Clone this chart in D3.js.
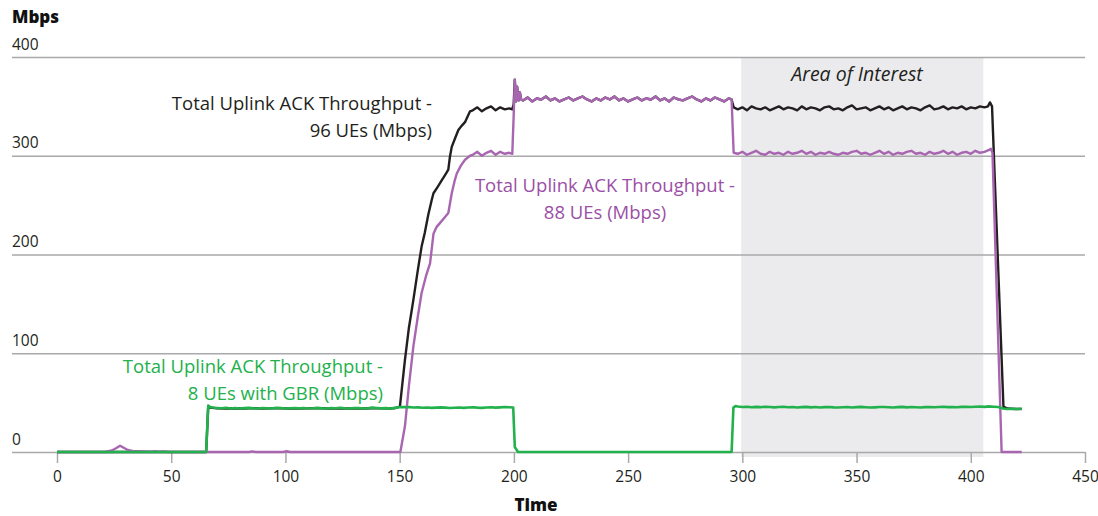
<!DOCTYPE html>
<html><head><meta charset="utf-8">
<script src="https://cdn.jsdelivr.net/npm/d3@7"></script>
<style>
body{margin:0;background:#fff}
svg{display:block}
text{font-family:"Open Sans","Noto Sans",sans-serif}
</style>
</head><body>
<svg id="chart" width="1098" height="516"></svg>
<script>
// ---------- data ----------
const yTicks = [0, 100, 200, 300, 400];
const xTicks = [0, 50, 100, 150, 200, 250, 300, 350, 400, 450];
const areaOfInterest = [299.5, 405.5];

// shared samples: black (total) and purple coincide while GBR traffic is off
const spikeTime = [200.4, 200.9, 201.4, 202, 202.6, 203.2];
const spikeMbps = [377, 355, 370, 356, 364, 357];
const peakMbps = [356,359,355,358,357,360,356,358,355,357,
  359,356,358,360,357,355,358,356,359,357,
  360,356,358,355,357,359,356,358,357,360,
  356,358,355,359,357,356,358,360,357,355,
  358,356,359,357,355,358];

// green: 8 UEs with GBR
const greenA = [45.0,44.6,44.3,44.8,44.1,44.5,44.0,44.4,44.7,44.2,
  44.0,44.6,44.3,44.1,44.8,44.4,44.0,44.3,44.6,44.2,
  44.5,44.1,44.3,44.7,44.2,44.0,44.5,44.3,44.8,44.2,
  44.1,44.6,44.4,44.0,44.3,44.9,44.5,44.2,44.4,44.1,
  44.7,45.6,45.4,45.6,45.0,45.2,44.8,45.1,44.7,44.9,
  45.2,44.9,44.6,44.8,45.1,44.7,45.0,45.3,44.9,44.7,
  45.1,45.3,44.9,45.2,45.5,45.3];
const greenB = [46.0,45.6,45.8,45.3,45.7,45.4,45.9,45.5,45.2,45.6,
  45.8,45.3,45.5,45.0,45.4,45.7,45.2,45.5,45.1,45.4,
  45.6,45.2,45.0,45.3,45.5,45.1,45.4,45.7,45.3,45.0,
  45.2,45.5,45.6,45.3,45.1,45.4,45.7,45.2,45.5,45.3,
  45.0,45.4,45.6,45.3,45.5,45.8,45.4,45.6,45.3,45.7,
  45.9,45.5,45.8,46.0,45.7,46.2,45.9,45.5];
const greenTime = [0, 65.3, 66.2, 67].concat(d3.range(68, 199, 2),
  [199.7, 200.4, 201.8, 295.3, 296.1, 297], d3.range(298, 413, 2), [414, 416, 418, 420, 422.3]);
const greenMbps = [0, 0, 47, 45.5].concat(greenA,
  [45, 5, 0, 0, 45, 46.5], greenB, [44, 43.5, 43.8, 43.6, 43.7]);

// purple: 88 UEs
const purpleRamp = [301, 304, 300, 303, 305, 301, 304, 302, 303];
const purpleLow = [302,304,301,303,305,302,301,304,302,303,
  301,304,302,303,305,302,304,301,303,302,
  304,302,301,303,302,304,305,302,303,301,
  303,305,302,304,301,303,302,304,305,302,
  303,301,304,302,303,305,302,304,301,303,
  304,302,305,303,304,306];
const purpleTime = [0,21,24,26,27.6,29,31,33,35,38,41,43,44,47,49,84,85.5,87,99,100.5,102,
  150.3,152.3,154,156,158,159.6,161.5,163.3,164.8,166.2,167.7,169.5,171.3,172.8,174,175,176.8,178.6,180.8]
  .concat(d3.range(182, 199, 2), [199.3, 199.9], spikeTime, d3.range(204, 295, 2),
  [295.3, 296.2], d3.range(298, 409, 2), [408.8, 409.5, 413.5, 422.3]);
const purpleMbps = [0,0,1.5,4,6.3,4.5,2,1,0.8,0.5,0.3,0.9,0.3,0.5,0,0,0.6,0,0,0.8,0,
  0,26,66,107,138,161,178,191,221,228,232,237,242,262,274,282,290,296,300]
  .concat(purpleRamp, [302, 340], spikeMbps, peakMbps, [357, 303], purpleLow, [307, 303, 0, 0]);

// black: 96 UEs total
const blackLow = [44.2,44.0,44.3,44.1,44.4,44.0,44.2,44.3,44.1,44.0,
  44.2,44.4,44.1,44.3,44.0,44.2,44.1,44.3,44.2,44.0];
const blackRise = [44.5,46,93,125,154,185,208,222,240,255,262,268,275,281,286,299,309,318,326,330,334,345];
const blackRamp = [346, 349, 345, 348, 350, 346, 349, 347, 348];
const blackHigh = [347,349,346,350,348,347,349,346,348,350,
  347,349,348,346,350,347,349,348,346,349,
  350,347,348,346,349,351,347,348,349,346,
  348,350,347,349,346,348,350,347,349,348,
  346,349,351,347,348,350,347,349,348,350,
  347,349,348,350,349];
const blackTime = [0, 65.3, 66.2, 67].concat(d3.range(70, 147, 4),
  [148,150.1,152.3,154,156,158,159.6,161,162.5,164,164.8,166.5,168.4,170,171.3,172,172.8,174.3,175.7,177,178.6,180.8],
  d3.range(182, 199, 2), [199.3, 199.9], spikeTime, d3.range(204, 295, 2), [295.3, 296.2],
  d3.range(298, 407, 2), [407.5, 408.4, 409.3, 414.3, 416, 418, 420, 422.3]);
const blackMbps = [0, 0, 46.5, 45].concat(blackLow, blackRise, blackRamp, [347, 352],
  spikeMbps, peakMbps, [357, 349], blackHigh, [350, 354, 350, 46, 44, 43.8, 43.6, 43.7]);

// ---------- chart ----------
const svg = d3.select("#chart");
const x = d3.scaleLinear().domain([0, 450]).range([57, 1085]);
const y = d3.scaleLinear().domain([0, 400]).range([452, 57]);
const gridColor = "#a9a9a9";

// area of interest band
svg.append("rect")
  .attr("x", x(areaOfInterest[0])).attr("y", y(400))
  .attr("width", x(areaOfInterest[1]) - x(areaOfInterest[0]))
  .attr("height", y(0) - y(400) + 5)
  .attr("fill", "#ebebed");
svg.append("text")
  .attr("x", 857).attr("y", 81)
  .attr("text-anchor", "middle").attr("font-style", "italic")
  .attr("font-size", 19.5).attr("fill", "#231f20")
  .text("Area of Interest");

// gridlines + y tick labels
const yAxis = d3.axisLeft(y).tickValues(yTicks).tickSize(-(1085 - 12)).tickFormat(d3.format("d"));
const gy = svg.append("g").attr("transform", "translate(12,0)").call(yAxis);
gy.select(".domain").remove();
gy.selectAll(".tick line").attr("stroke", gridColor).attr("stroke-width", 1.5);
gy.selectAll(".tick text")
  .attr("x", 0).attr("dy", -8).attr("text-anchor", "start")
  .attr("font-size", 15.5).attr("fill", "#231f20")
  .attr("font-family", "'Open Sans','Noto Sans',sans-serif");

// x axis
const xAxis = d3.axisBottom(x).tickValues(xTicks).tickSize(11).tickPadding(8).tickFormat(d3.format("d"));
const gx = svg.append("g").attr("transform", `translate(0,${y(0)})`).call(xAxis);
gx.select(".domain").remove();
gx.selectAll(".tick line").attr("stroke", gridColor).attr("stroke-width", 1.5);
gx.selectAll(".tick text").attr("font-size", 15.5).attr("fill", "#231f20")
  .attr("font-family", "'Open Sans','Noto Sans',sans-serif");

// lines
const line = d3.line().x(d => x(d[0])).y(d => y(d[1]));
const zip = (ts, vs) => ts.map((t, i) => [t, vs[i]]).filter(d => d[1] !== undefined);
const series = [
  {t: blackTime, v: blackMbps, color: "#231f20", w: 2.4},
  {t: purpleTime, v: purpleMbps, color: "#a866b1", w: 2.4},
  {t: greenTime, v: greenMbps, color: "#22b14c", w: 2.6}
];
series.forEach(s => {
  svg.append("path").datum(zip(s.t, s.v))
    .attr("fill", "none").attr("stroke", s.color).attr("stroke-width", s.w)
    .attr("stroke-linejoin", "round").attr("d", line);
});

// series labels
function label(lines, xPos, yPos, anchor, color) {
  const t = svg.append("text").attr("font-size", 18.5).attr("fill", color).attr("text-anchor", anchor);
  lines.forEach((l, i) => t.append("tspan").attr("x", xPos).attr("y", yPos + i * 27).text(l));
}
label(["Total Uplink ACK Throughput -", "96 UEs (Mbps)"], 432, 110, "end", "#231f20");
label(["Total Uplink ACK Throughput -", "88 UEs (Mbps)"], 605, 192, "middle", "#9b4fa6");
label(["Total Uplink ACK Throughput -", "8 UEs with GBR (Mbps)"], 383, 373, "end", "#22b14c");

// axis titles
svg.append("text").attr("x", 12).attr("y", 23).attr("font-size", 17).attr("font-weight", 800)
  .attr("fill", "#111").text("Mbps");
svg.append("text").attr("x", 536).attr("y", 511).attr("text-anchor", "middle")
  .attr("font-size", 17).attr("font-weight", 800).attr("fill", "#111").text("Time");
</script>
</body></html>
